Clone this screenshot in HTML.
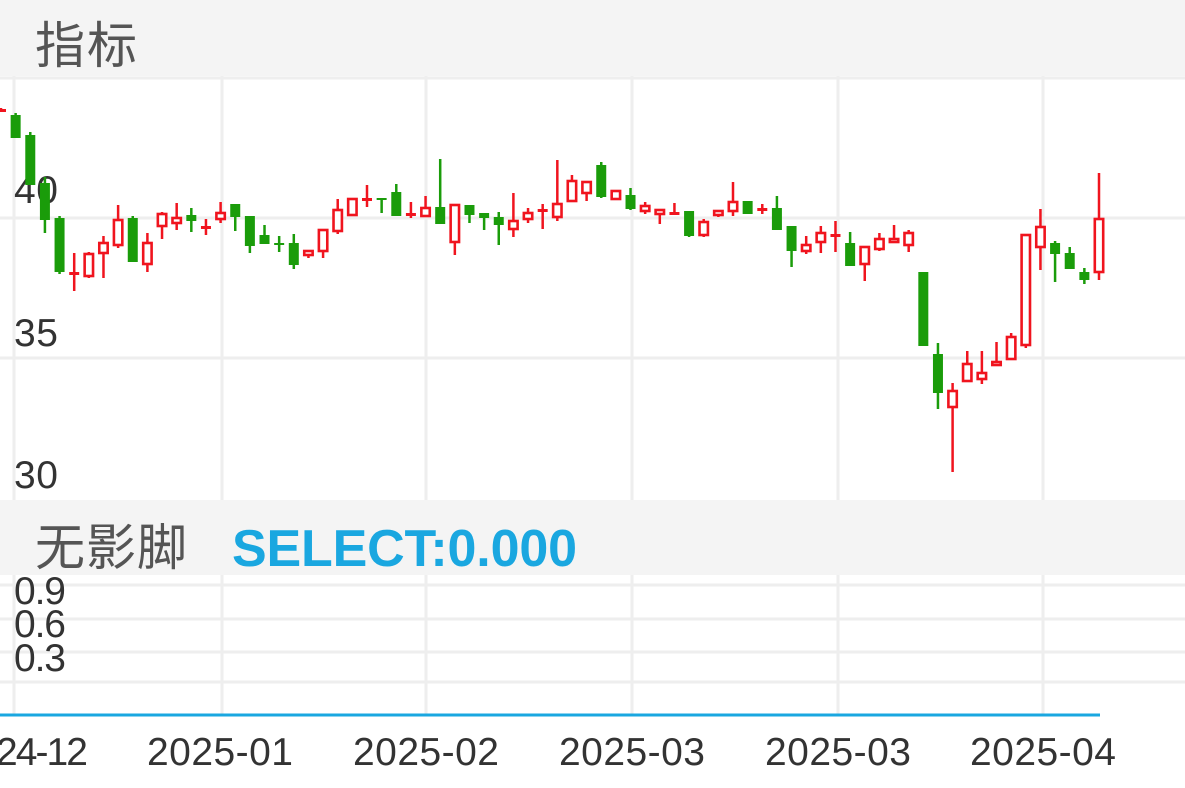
<!DOCTYPE html>
<html><head><meta charset="utf-8"><style>
body{margin:0;width:1185px;height:788px;overflow:hidden;background:#fff;font-family:"Liberation Sans","Noto Sans CJK SC",sans-serif}
svg{position:absolute;left:0;top:0}
</style></head><body>
<svg id="s" width="1185" height="788" xmlns="http://www.w3.org/2000/svg">
<rect x="0" y="0" width="1185" height="76" fill="#f4f4f4"/>
<rect x="0" y="500" width="1185" height="75" fill="#f4f4f4"/>
<g stroke="#eeeeee" stroke-width="3">
<line x1="0" y1="78" x2="1185" y2="78"/>
<line x1="0" y1="218" x2="1185" y2="218"/>
<line x1="0" y1="358" x2="1185" y2="358"/>
<line x1="0" y1="585" x2="1185" y2="585"/>
<line x1="0" y1="619" x2="1185" y2="619"/>
<line x1="0" y1="652" x2="1185" y2="652"/>
<line x1="0" y1="682" x2="1185" y2="682"/>
<line x1="14" y1="76" x2="14" y2="500"/><line x1="222" y1="76" x2="222" y2="500"/><line x1="426" y1="76" x2="426" y2="500"/><line x1="632" y1="76" x2="632" y2="500"/><line x1="838" y1="76" x2="838" y2="500"/><line x1="1043" y1="76" x2="1043" y2="500"/>
<line x1="14" y1="575" x2="14" y2="714"/><line x1="222" y1="575" x2="222" y2="714"/><line x1="426" y1="575" x2="426" y2="714"/><line x1="632" y1="575" x2="632" y2="714"/><line x1="838" y1="575" x2="838" y2="714"/><line x1="1043" y1="575" x2="1043" y2="714"/>
</g>
<line x1="0" y1="715" x2="1100" y2="715" stroke="#1aa7e0" stroke-width="3"/>
<text x="35" y="63" font-size="50" fill="#555" textLength="102">指标</text>
<text x="35" y="565" font-size="50" fill="#555" textLength="152">无影脚</text>
<text x="232" y="566" font-size="52" font-weight="bold" fill="#1aa7e0" textLength="345">SELECT:0.000</text>
<g font-size="39" fill="#333">
<text x="14" y="203" textLength="44">40</text><text x="14" y="346" textLength="44">35</text><text x="14" y="488" textLength="44">30</text>
<text x="14" y="604" textLength="52">0.9</text><text x="14" y="637" textLength="52">0.6</text><text x="14" y="671" textLength="52">0.3</text>
<text x="-4" y="765" textLength="92">24-12</text>
<text x="147" y="765" textLength="146">2025-01</text>
<text x="353" y="765" textLength="146">2025-02</text>
<text x="559" y="765" textLength="146">2025-03</text>
<text x="765" y="765" textLength="146">2025-03</text>
<text x="970" y="765" textLength="146">2025-04</text>
</g>
<g id="c"></g>
</svg>
<script>
var d=[
['r',109,111,108,112],['g',115,138,113,138],['g',135,185,132,185],['g',183,220,177,233],['g',218,272,216,274],['r',272,274,253,291],['r',253,277,252,278],['r',242,254,236,278],['r',219,246,205,248],['g',218,262,216,262],['r',242,265,233,272],['r',213,227,212,239],['r',217,224,203,230],['g',215,221,208,232],['r',226,228,219,235],['r',212,220,202,223],['g',204,217,204,231],['g',216,246,216,253],['g',235,244,225,244],['g',243,245,236,252],['g',243,265,234,269],['r',250,256,250,258],['r',229,252,229,258],['r',209,232,199,234],['r',198,216,198,216],['r',198,200,185,207],['g',198,200,198,213],['g',192,216,184,216],
['r',213,215,202,218],['r',207,217,196,217],['g',207,224,159,224],['r',204,243,204,255],['g',205,215,205,223],['g',213,218,213,230],['g',217,225,212,245],['r',220,230,193,237],['r',212,220,208,223],['r',209,211,204,229],['r',203,218,160,221],['r',180,202,175,202],['r',181,194,181,201],['g',165,197,162,198],['r',190,200,190,200],['g',195,209,188,210],['r',205,212,202,214],['r',209,215,209,224],['r',212,214,203,214],['g',211,236,211,237],['r',221,236,219,237],['r',210,216,210,217],['r',201,212,182,216],['g',201,214,201,214],['r',208,210,204,214],['g',208,230,196,230],
['g',226,251,226,267],['r',244,252,236,254],['r',232,243,226,253],['r',234,237,221,252],['g',243,266,232,266],['r',246,265,246,281],['r',238,250,233,251],['r',238,243,225,243],['r',232,246,230,252],['g',272,346,272,346],['g',354,393,343,409],['r',390,408,383,472],['r',363,382,351,382],['r',372,380,351,384],['r',361,366,342,366],['r',336,360,333,360],['r',234,346,234,348],['r',226,248,209,270],['g',243,254,241,282],['g',253,269,247,269],['g',272,280,268,284],['r',218,273,173,280]];
var h='',n=d.length,sp=(1099-1)/(n-1);
for(var i=0;i<n;i++){var c=d[i],x=1+sp*i,col=c[0]=='r'?'#f0141e':'#1a9c0a';
h+='<line x1="'+x+'" x2="'+x+'" y1="'+c[3]+'" y2="'+c[4]+'" stroke="'+col+'" stroke-width="2.5"/>';
var bh=Math.max(c[2]-c[1],2);
if(c[0]=='r'){ if(bh<=3) h+='<rect x="'+(x-5)+'" y="'+c[1]+'" width="10" height="3" fill="'+col+'"/>';
 else h+='<rect x="'+(x-4.2)+'" y="'+(c[1]+1)+'" width="8.4" height="'+(bh-2)+'" fill="#fff" stroke="'+col+'" stroke-width="2.6"/>';}
else h+='<rect x="'+(x-5)+'" y="'+c[1]+'" width="10" height="'+bh+'" fill="'+col+'"/>';}
document.getElementById('c').innerHTML=h;
</script>
</body></html>
